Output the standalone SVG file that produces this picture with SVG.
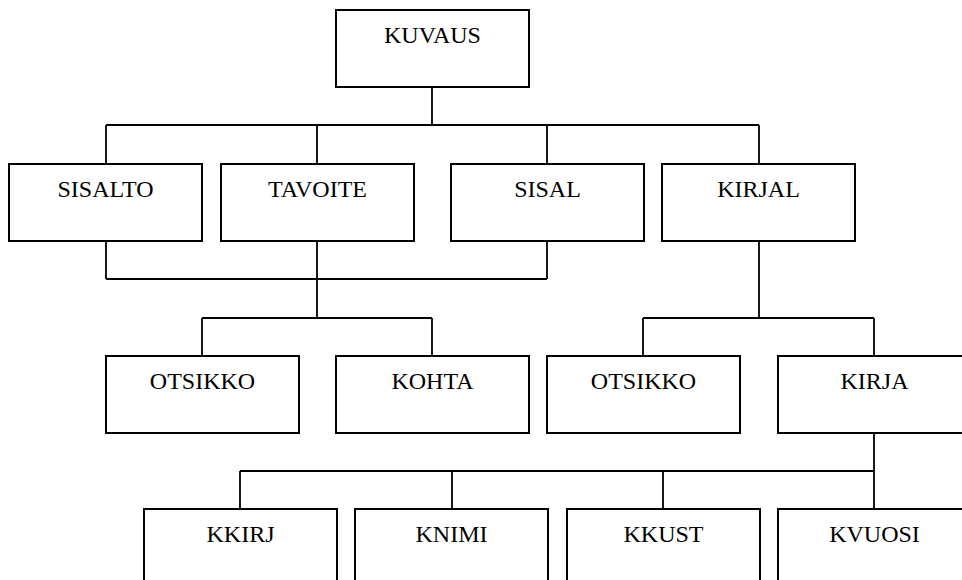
<svg xmlns="http://www.w3.org/2000/svg" width="962" height="580" viewBox="0 0 962 580">
<style>
.box{fill:#fff;stroke:#000;stroke-width:2}
.lbl{font-family:"Liberation Serif","Times New Roman",serif;font-size:24px;fill:#000;text-anchor:middle}
.con{fill:none;stroke:#000;stroke-width:1.8}
</style>
<rect width="962" height="580" fill="#fff"/>
<g id="connectors" class="con">
<path d="M432,87V125M106,125H759M106,125V164M317,125V164M547,125V164M759,125V164"/>
<path d="M106,241V279M317,241V318M547,241V279M106,279H547M202,318H432M202,318V356M432,318V356"/>
<path d="M759,241V318M643,318H874M643,318V356M874,318V356"/>
<path d="M874,433V509M240,471H874M240,471V509M452,471V509M663,471V509"/>
</g>
<g id="kuvaus"><rect class="box" x="336" y="10" width="193" height="77"/><text class="lbl" x="432.5" y="43">KUVAUS</text></g>
<g id="sisalto"><rect class="box" x="9" y="164" width="193" height="77"/><text class="lbl" x="105.5" y="197">SISALTO</text></g>
<g id="tavoite"><rect class="box" x="221" y="164" width="193" height="77"/><text class="lbl" x="317.5" y="197">TAVOITE</text></g>
<g id="sisal"><rect class="box" x="451" y="164" width="193" height="77"/><text class="lbl" x="547.5" y="197">SISAL</text></g>
<g id="kirjal"><rect class="box" x="662" y="164" width="193" height="77"/><text class="lbl" x="758.5" y="197">KIRJAL</text></g>
<g id="otsikko1"><rect class="box" x="106" y="356" width="193" height="77"/><text class="lbl" x="202.5" y="389">OTSIKKO</text></g>
<g id="kohta"><rect class="box" x="336" y="356" width="193" height="77"/><text class="lbl" x="432.5" y="389">KOHTA</text></g>
<g id="otsikko2"><rect class="box" x="547" y="356" width="193" height="77"/><text class="lbl" x="643.5" y="389">OTSIKKO</text></g>
<g id="kirja"><rect class="box" x="778" y="356" width="193" height="77"/><text class="lbl" x="874.5" y="389">KIRJA</text></g>
<g id="kkirj"><rect class="box" x="144" y="509" width="193" height="77"/><text class="lbl" x="240.5" y="542">KKIRJ</text></g>
<g id="knimi"><rect class="box" x="355" y="509" width="193" height="77"/><text class="lbl" x="451.5" y="542">KNIMI</text></g>
<g id="kkust"><rect class="box" x="567" y="509" width="193" height="77"/><text class="lbl" x="663.5" y="542">KKUST</text></g>
<g id="kvuosi"><rect class="box" x="778" y="509" width="193" height="77"/><text class="lbl" x="874.5" y="542">KVUOSI</text></g>
</svg>
